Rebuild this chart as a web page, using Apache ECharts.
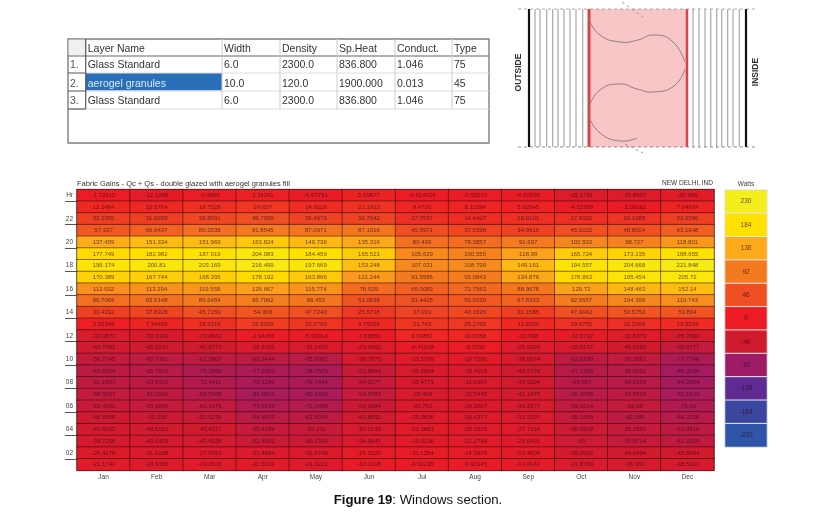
<!DOCTYPE html>
<html>
<head>
<meta charset="utf-8">
<style>html,body{margin:0;padding:0;background:#fff}#view1{width:827px;height:517px}</style>
<script src="https://cdn.jsdelivr.net/npm/echarts@6/dist/echarts.min.js"></script>
</head>
<body>
<div id="view1"></div>
<script>
var months = ["Jan", "Feb", "Mar", "Apr", "May", "Jun", "Jul", "Aug", "Sep", "Oct", "Nov", "Dec"];
var hours = ["Hr", "23", "22", "21", "20", "19", "18", "17", "16", "15", "14", "13", "12", "11", "10", "09", "08", "07", "06", "05", "04", "03", "02", "01"];
var hourTicks = [1, 3, 5, 7, 9, 11, 13, 15, 17, 19, 21, 23];

// one row per hour, top of the chart first
var hr00 = [-1.72015, -12.1298, -2.4865, 3.34291, -6.67791, 5.50877, -0.614528, -2.55513, -6.52595, -25.1781, -25.8907, -20.096];
var hr23 = [12.2464, 10.5764, 18.7528, 24.657, 14.9118, 21.1913, 8.4726, 8.11594, 5.62945, -4.52389, -3.09092, 7.04934];
var hr22 = [32.2955, 31.9939, 39.8991, 45.7909, 36.4679, 36.7942, 17.7537, 14.4427, 18.0101, 17.9332, 20.1085, 32.0586];
var hr21 = [57.337, 66.0437, 80.3538, 91.8545, 87.0971, 87.1016, 45.6971, 37.5398, 34.9919, 45.9102, 48.8004, 63.1948];
var hr20 = [137.459, 151.334, 151.969, 163.824, 149.736, 135.316, 80.439, 78.3857, 91.697, 102.933, 98.727, 118.801];
var hr19 = [177.749, 182.982, 187.919, 204.083, 184.459, 165.521, 105.629, 100.555, 128.99, 165.724, 173.135, 188.655];
var hr18 = [196.174, 200.81, 203.169, 216.499, 197.669, 153.248, 107.031, 108.799, 149.161, 194.557, 204.668, 221.848];
var hr17 = [170.389, 167.744, 168.395, 178.192, 163.866, 121.244, 91.9586, 95.0843, 134.876, 178.863, 195.454, 205.72];
var hr16 = [112.032, 113.294, 119.558, 126.667, 115.774, 76.929, 66.0083, 72.7563, 88.9678, 129.72, 148.463, 152.14];
var hr15 = [80.7069, 83.5148, 89.6454, 95.7062, 88.453, 51.0638, 51.4425, 56.0239, 67.8353, 92.9557, 104.399, 110.743];
var hr14 = [33.4332, 37.8328, 45.7159, 54.308, 47.7243, 25.5738, 37.093, 40.1626, 31.1585, 47.9042, 53.5752, 53.864];
var hr13 = [2.55349, 7.34459, 18.5316, 29.5335, 23.5799, 9.79026, 23.743, 25.2765, 11.9204, 19.6755, 16.2069, 13.5554];
var hr12 = [-32.0873, -33.3343, -19.4562, -2.94456, -5.53914, -7.88856, 9.09867, 10.0788, -10.038, -12.5732, -22.8373, -35.7892];
var hr11 = [-43.7091, -45.5231, -40.8773, -28.2355, -31.2435, -23.6952, -8.41918, -5.5292, -25.5029, -32.5137, -40.9999, -56.0777];
var hr10 = [-56.7745, -60.7361, -61.3807, -63.9444, -65.8362, -38.7875, -21.5709, -18.7595, -38.6074, -62.6199, -59.3561, -77.7746];
var hr09 = [-63.6309, -65.7921, -75.3866, -77.2066, -78.7575, -52.8864, -35.2904, -30.4118, -45.5778, -67.1398, -66.3031, -86.2296];
var hr08 = [-61.1867, -63.5915, -72.4411, -78.2286, -79.7444, -54.0377, -35.4771, -31.6304, -43.5294, -66.657, -66.8259, -84.2884];
var hr07 = [-58.5937, -61.2041, -69.5668, -81.0012, -80.5493, -54.9383, -35.498, -32.5445, -41.1475, -66.2698, -63.5569, -82.1623];
var hr06 = [-52.4502, -55.3869, -60.1479, -73.6939, -72.0488, -50.1984, -30.762, -29.3507, -36.3377, -59.3314, -56.69, -75.66];
var hr05 = [-46.8568, -50.256, -52.5236, -64.6803, -62.8045, -43.8852, -25.9606, -26.4377, -31.5097, -55.1608, -62.389, -69.2238];
var hr04 = [-41.8262, -44.5561, -45.4117, -55.4109, -53.231, -37.0139, -21.3881, -25.1525, -27.7118, -50.9309, -55.3592, -63.2918];
var hr03 = [-39.7258, -43.0425, -43.4528, -52.4502, -50.2349, -34.9847, -19.9136, -22.2799, -25.6401, -50, -55.9714, -61.2929];
var hr02 = [-26.4278, -31.1298, -27.9353, -31.4584, -31.9748, -16.3525, -11.1254, -14.3978, -19.4004, -39.2993, -44.0494, -45.5544];
var hr01 = [-21.1742, -23.9385, -19.3506, -20.5019, -23.3221, -10.0308, -6.93235, -9.32945, -14.4142, -31.8789, -36.381, -38.5321];
var rows = [hr00, hr23, hr22, hr21, hr20, hr19, hr18, hr17, hr16, hr15, hr14, hr13, hr12, hr11, hr10, hr09, hr08, hr07, hr06, hr05, hr04, hr03, hr02, hr01];

var scaleSteps = [230, 184, 138, 92, 46, 0, -46, -92, -138, -184, -230];
var scaleColors = ["#2f55a8", "#3a46a0", "#5f2a91", "#9e1b66", "#d01b2f", "#ed1c24", "#f04e23", "#f47a20", "#fdab1b", "#ffe100", "#f3ee1c"];

// layer table above the chart
var tableHeader = ["Layer Name", "Width", "Density", "Sp.Heat", "Conduct.", "Type"];
var layerRows = [
  ["Glass Standard", "6.0", "2300.0", "836.800", "1.046", "75"],
  ["aerogel granules", "10.0", "120.0", "1900.000", "0.013", "45"],
  ["Glass Standard", "6.0", "2300.0", "836.800", "1.046", "75"]
];

var cells = [];
rows.forEach(function (row, r) {
  row.forEach(function (v, m) { cells.push([m, r, v]); });
});
var scaleCells = scaleSteps.map(function (v, i) { return [0, i, v]; });

var graphics = [];
function rect(x, y, w, h, fill, stroke, lw) {
  graphics.push({ type: "rect", shape: { x: x, y: y, width: w, height: h }, style: { fill: fill, stroke: stroke || null, lineWidth: lw || 0 } });
}
function line(x1, y1, x2, y2, color, lw, dash) {
  graphics.push({ type: "line", shape: { x1: x1, y1: y1, x2: x2, y2: y2 }, style: { stroke: color, lineWidth: lw, lineDash: dash || null } });
}
function label(text, x, y, color, size) {
  graphics.push({
    type: "text", x: x, y: y,
    style: { text: text, fill: color, font: size + "px 'Liberation Sans'", verticalAlign: "middle" }
  });
}

// table
var colX = [85.7, 222, 280, 337, 395, 452];
var rowY = [39, 56, 73, 91, 109];
var rowMid = [49, 65.5, 84, 101];
rect(68, 39, 421, 104, "#fff", "#7f7f7f", 1.4);
rect(68.7, 39.7, 17, 15.6, "#f0f0f0");
rect(86, 73, 136, 17.5, "#2a70b8");
line(68, 56, 489, 56, "#666", 1.2);
rowY.slice(2).forEach(function (y) { line(85, y, 489, y, "#dcdcdc", 1); });
colX.forEach(function (x, i) {
  line(x, 39, x, 109, i ? "#cccccc" : "#555", i ? 1 : 1.2);
});
rowY.slice(2).forEach(function (y) { line(68, y, 85.7, y, "#555", 1); });
line(68, 109, 85.7, 109, "#888", 1);
tableHeader.forEach(function (t, i) {
  label(t, colX[i] + 2, rowMid[0], "#333", 10.5);
});
layerRows.forEach(function (row, r) {
  label((r + 1) + ".", 70, rowMid[r + 1], "#555", 10.5);
  row.forEach(function (t, i) {
    label(t, colX[i] + 2, rowMid[r + 1], r == 1 && i == 0 ? "#dbe9f8" : "#333", 10.5);
  });
});

// window section sketch
var leftGlass = [535, 540, 546.7, 552.7, 558, 564, 570, 576, 582.7];
var rightGlass = [693, 699, 705, 710.7, 716.7, 721.7, 727.7, 733, 739.3];
rect(589, 9, 98, 138, "#f9c6c8");
leftGlass.concat(rightGlass).forEach(function (x) { line(x, 9, x, 147, "#a8a8a8", 1.2); });
line(529, 9, 529, 147, "#111", 2.2);
line(746, 9, 746, 147, "#111", 2.2);
line(589, 9, 589, 147, "#d9434a", 3);
line(687, 9, 687, 147, "#d9434a", 2.5);
line(518, 9, 756, 9, "#999", 0.8, [3, 3]);
line(518, 147, 756, 147, "#777", 0.8, [3, 3]);
line(622, 2, 643, 17, "#888", 0.8, [3, 3]);
line(625, 144, 643, 153, "#888", 0.8, [3, 3]);
graphics.push({ type: "polyline", shape: { smooth: 0.5, points: [[589, 20], [600, 35], [620, 42], [638, 40], [653, 35], [672, 41], [685, 62]] }, style: { fill: null, stroke: "#8f7f80", lineWidth: 1 } });
graphics.push({ type: "polyline", shape: { smooth: 0.5, points: [[685, 69], [674, 86], [653, 92], [637, 89], [620, 84], [600, 90], [589, 107]] }, style: { fill: null, stroke: "#8f7f80", lineWidth: 1 } });
graphics.push({ type: "polyline", shape: { smooth: 0.5, points: [[589, 117], [600, 133], [620, 141], [637, 138]] }, style: { fill: null, stroke: "#8f7f80", lineWidth: 1 } });
graphics.push({ type: "text", x: 519, y: 72.5, rotation: Math.PI / 2, style: { text: "OUTSIDE", fill: "#333", font: "bold 8.5px 'Liberation Sans'", align: "center", verticalAlign: "middle" } });
graphics.push({ type: "text", x: 755.5, y: 72, rotation: Math.PI / 2, style: { text: "INSIDE", fill: "#333", font: "bold 8.5px 'Liberation Sans'", align: "center", verticalAlign: "middle" } });

var cellText = "rgba(50,10,30,0.7)";
var option = {
  backgroundColor: "#fff",
  animation: false,
  textStyle: { fontFamily: "Liberation Sans" },
  title: [
    { text: "Fabric Gains - Qc + Qs - double glazed with aerogel granules fill", left: 77, top: 180, padding: 0, textStyle: { fontSize: 7.5, fontWeight: "normal", color: "#333" } },
    { text: "NEW DELHI, IND", right: 114, top: 180, padding: 0, textStyle: { fontSize: 6.5, fontWeight: "normal", color: "#333" } },
    { text: "Watts", left: 746, top: 181, textAlign: "center", padding: 0, textStyle: { fontSize: 6.5, fontWeight: "normal", color: "#444" } },
    {
      text: "{b|Figure 19}{n|: Windows section.}", left: 418, top: 494, textAlign: "center", padding: 0,
      textStyle: { fontWeight: "normal", rich: { b: { fontSize: 13.2, fontWeight: "bold", color: "#111" }, n: { fontSize: 13.2, fontWeight: "normal", color: "#111" } } }
    }
  ],
  grid: [
    { left: 77, top: 189.5, width: 637, height: 281, show: true, borderColor: "#444", borderWidth: 1, backgroundColor: "#fff" },
    { left: 725, top: 190, width: 42, height: 257 }
  ],
  xAxis: [
    {
      type: "category", data: months, position: "bottom",
      axisLine: { lineStyle: { color: "#333" } },
      axisTick: { length: 3, lineStyle: { color: "#444" } },
      axisLabel: { fontSize: 6.5, color: "#444", margin: 3, interval: 0 }
    },
    { type: "category", gridIndex: 1, data: ["Watts"], axisLine: { show: false }, axisTick: { show: false }, axisLabel: { show: false } }
  ],
  yAxis: [
    {
      type: "category", data: hours, inverse: true,
      axisLine: { lineStyle: { color: "#333" } },
      axisTick: { show: false },
      axisLabel: { fontSize: 6.5, color: "#444", margin: 4, interval: 1 }
    },
    { type: "category", gridIndex: 1, data: scaleSteps, inverse: true, axisLine: { show: false }, axisTick: { show: false }, axisLabel: { show: false } },
    // the long hour ticks sit on every other row boundary, so they get their own axis
    {
      type: "value", min: 0, max: 24, inverse: true, position: "left", splitLine: { show: false },
      axisLine: { show: false },
      axisLabel: { show: false },
      axisTick: { show: true, length: 12, customValues: hourTicks, lineStyle: { color: "#555" } }
    }
  ],
  visualMap: {
    show: false, type: "continuous", min: -230, max: 230, dimension: 2, seriesIndex: [0, 1],
    inRange: { color: scaleColors }
  },
  series: [
    {
      type: "heatmap", data: cells,
      itemStyle: { borderColor: "rgba(30,0,10,0.6)", borderWidth: 0.8 },
      label: { show: true, fontSize: 6, color: cellText, formatter: function (p) { return p.value[2]; } }
    },
    {
      type: "heatmap", xAxisIndex: 1, yAxisIndex: 1, data: scaleCells,
      itemStyle: { borderColor: "#e8e8e8", borderWidth: 1 },
      label: { show: true, fontSize: 6.5, color: cellText, formatter: function (p) { return p.value[2]; } }
    }
  ],
  graphic: graphics
};

echarts.init(document.getElementById("view1")).setOption(option);
</script>
</body>
</html>
